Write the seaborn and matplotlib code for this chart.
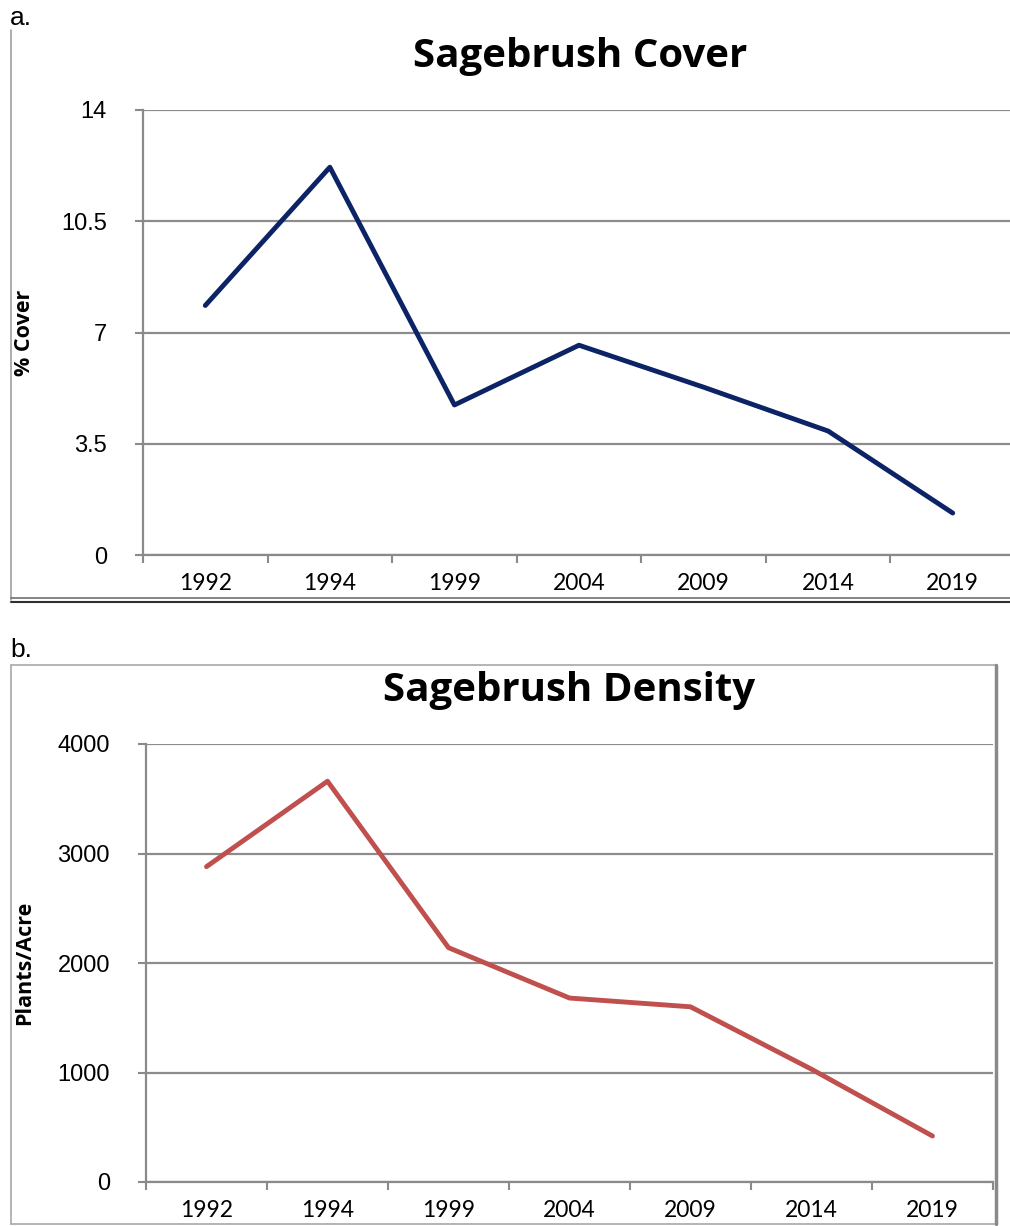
import seaborn as sns
import matplotlib.pyplot as plt
import pandas as pd
from matplotlib.lines import Line2D

# Data
years = ["1992", "1994", "1999", "2004", "2009", "2014", "2019"]
cover = [7.85, 12.2, 4.72, 6.6, 5.28, 3.9, 1.32]
density = [2880, 3660, 2140, 1680, 1600, 1030, 420]
cover_ticks = [0, 3.5, 7, 10.5, 14]
density_ticks = [0, 1000, 2000, 3000, 4000]

sns.set_theme(style="white")
plt.rcParams["font.family"] = ["Liberation Sans", "DejaVu Sans"]
plt.rcParams["text.color"] = "black"
plt.rcParams["xtick.color"] = "black"
plt.rcParams["ytick.color"] = "black"

W, H = 1010, 1226
fig = plt.figure(figsize=(W / 100, H / 100), dpi=100)


def px_axes(left, top, right, bottom):
    return fig.add_axes([left / W, 1 - bottom / H, (right - left) / W, (bottom - top) / H])


def style_axes(ax, data, color, ticks, ymax, ylabel, title, title_x, title_y):
    df = pd.DataFrame({"year": years, "value": data})
    sns.lineplot(data=df, x="year", y="value", color=color, linewidth=3.5, ax=ax)
    ax.set_xlim(-0.5, len(years) - 0.5)
    ax.set_ylim(0, ymax)
    ax.set_yticks(ticks)
    ax.set_yticklabels([f"{t:g}" for t in ticks], fontsize=17)
    ax.set_xticks(range(len(years)))
    ax.set_xticklabels(years, fontsize=16.5, family=["Lato", "DejaVu Sans"])
    ax.set_xticks([i - 0.5 for i in range(len(years) + 1)], minor=True)
    ax.tick_params(axis="x", which="major", length=0, pad=13)
    ax.tick_params(axis="x", which="minor", length=6, width=1.5, color="#8a8a8a", direction="out", bottom=True)
    ax.tick_params(axis="y", which="major", length=6, width=1.5, color="#8a8a8a", direction="out", left=True, pad=20)
    ax.grid(axis="y", color="#8c8c8c", linewidth=1.6)
    ax.set_axisbelow(True)
    for side in ["top", "right"]:
        ax.spines[side].set_visible(False)
    for side in ["left", "bottom"]:
        ax.spines[side].set_color("#8a8a8a")
        ax.spines[side].set_linewidth(1.6)
    ax.set_xlabel("")
    ax.set_ylabel("")
    pos = ax.get_position()
    fig.text(25 / W, pos.y0 + pos.height / 2, ylabel,
             rotation=90, ha="center", va="center", fontsize=15.5, fontweight="bold",
             family=["Open Sans", "DejaVu Sans"])
    fig.text(title_x / W, 1 - title_y / H, title, ha="center", va="center",
             fontsize=29, fontweight="bold", family=["Open Sans", "DejaVu Sans"])


ax1 = px_axes(143, 110, 1015, 555)
style_axes(ax1, cover, "#0c2466", cover_ticks, 14, "% Cover", "Sagebrush Cover", 580, 56)

ax2 = px_axes(146, 744, 993, 1182)
style_axes(ax2, density, "#c0504d", density_ticks, 4000, "Plants/Acre", "Sagebrush Density", 569, 690)

# panel letters
fig.text(10 / W, 1 - 18 / H, "a.", fontsize=19, va="center")
fig.text(10 / W, 1 - 650 / H, "b.", fontsize=19, va="center")


def px_line(x0, y0, x1, y1, color, lw):
    fig.add_artist(Line2D([x0 / W, x1 / W], [1 - y0 / H, 1 - y1 / H],
                          transform=fig.transFigure, color=color, linewidth=lw))


# frame around chart a (cropped)
px_line(11, 30, 11, 600, "#a0a0a0", 1.2)
px_line(11, 598, 1010, 598, "#707070", 1.2)
px_line(11, 602, 1010, 602, "#303030", 1.5)

# frame around chart b
px_line(11, 665, 996, 665, "#a8a8a8", 1.2)
px_line(11, 665, 11, 1224, "#a8a8a8", 1.2)
px_line(11, 1224, 996, 1224, "#a8a8a8", 1.2)
px_line(996, 665, 996, 1224, "#8a8a8a", 2.5)

fig.savefig("out.png", dpi=100)
